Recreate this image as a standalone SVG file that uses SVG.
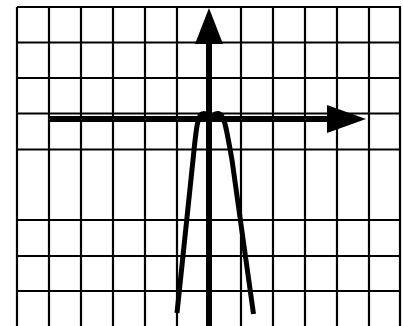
<svg xmlns="http://www.w3.org/2000/svg" width="403" height="326" viewBox="0 0 403 326">
<style>
.g{stroke:#000;stroke-width:2.2;fill:none}
.ax{stroke:#000;stroke-width:6;fill:none}
.cv{stroke:#000;stroke-width:5;fill:none;stroke-linecap:butt;stroke-linejoin:round}
</style>
<rect width="403" height="326" fill="#fff"/>
<g id="grid" class="g">
<path d="M17 7V326M49 7V326M81 7V326M113 7V326M145 7V326M177 7V326M241 7V326M273 7V326M305 7V326M337 7V326M369 7V326M400 7V326"/>
<path d="M17 7H401M17 42.5H401M17 78H401M17 113.5H401M17 149.5H401M17 220H401M17 256H401M17 291H401"/>
</g>
<g id="axes">
<path class="ax" d="M209 40V326"/>
<polygon points="209,8 223,44 195,44"/>
<path class="ax" d="M49 119H330"/>
<polygon points="366,119 327,105 327,133"/>
</g>
<g id="curve">
<path class="cv" d="M177 313 L193 160 C196 130 197.5 114 203 113.5 C207 113 207.5 116.5 210.5 116.5 C213.5 116.5 214 113 218.5 113.5 C224 114 226 126 232 160 L253.5 314"/>
</g>
</svg>
